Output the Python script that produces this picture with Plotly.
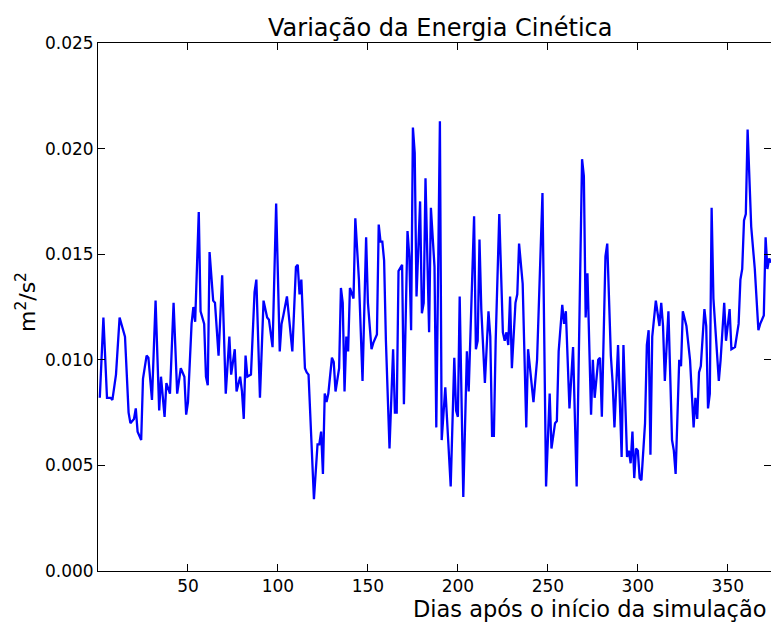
import plotly.graph_objects as go

days = [1, 3, 5, 7, 8, 10, 12, 15, 17, 18, 20, 21, 22, 24, 25, 27, 28, 30,
        32, 34, 35, 37, 38, 40, 42, 44, 46, 48, 49, 50, 52, 53, 54, 56, 57, 59, 60, 61, 62,
        64, 65, 67, 69, 71, 73, 74, 76, 77, 79, 80, 81, 82, 83, 85, 87, 88, 90, 92, 94,
        95, 97, 99, 101, 102, 103, 105, 108, 110, 111, 112, 113, 115, 116, 117, 120, 122, 123, 124, 125,
        126, 127, 128, 130, 131, 132, 134, 135, 136, 137, 138, 139, 140, 142, 143, 145, 147, 149, 150,
        152, 153, 155, 156, 157,
        158, 159, 160, 162, 164, 165, 166, 167, 169, 170, 172, 173, 174, 175, 176, 177, 179, 180, 181,
        182, 184, 185, 187, 188,
        190, 191, 193, 196, 198, 199, 200, 201, 203, 205, 206, 209, 210, 211, 212, 213, 215, 217, 218,
        219, 220,
        221, 223, 225, 226, 227, 228, 229, 230, 232, 233, 234, 236, 238, 239, 242, 244, 247, 249, 251, 252,
        254, 255, 256, 258, 259, 260, 262, 264, 266, 269, 270, 271, 272, 274, 275, 276, 278, 279, 280,
        282, 283,
        285, 286, 287, 289, 291, 292, 294, 295, 296, 297, 298, 299, 300, 301, 302, 304, 305, 306, 307,
        308, 310, 312, 313, 314, 315,
        317, 319, 320, 321, 323, 324, 325, 327, 329, 331, 332, 333, 334, 335, 337, 338, 339, 340, 341,
        342, 345, 346,
        348, 349, 351, 352, 354, 356, 357, 358, 359, 360, 361, 363, 365, 367, 368, 370, 371, 372, 373, 374]

energia = [0.0082, 0.0120, 0.0082, 0.0082, 0.0081, 0.0093, 0.0120, 0.0111, 0.0075, 0.0070, 0.0072,
           0.0077, 0.0066, 0.0062, 0.0091, 0.0102, 0.0101, 0.0081,
           0.0128, 0.0076, 0.0092, 0.0073, 0.0089, 0.0084, 0.0127, 0.0084, 0.0096, 0.0092, 0.0074,
           0.0080, 0.0117, 0.0125, 0.0118, 0.0170, 0.0123, 0.0117, 0.0092, 0.0088, 0.0151,
           0.0128, 0.0127, 0.0102, 0.0140, 0.0084, 0.0111, 0.0093, 0.0105, 0.0085, 0.0092, 0.0085,
           0.0072, 0.0102, 0.0092, 0.0093, 0.0132, 0.0138, 0.0082, 0.0128, 0.0120,
           0.0119, 0.0106, 0.0174, 0.0104, 0.0117, 0.0121, 0.0130, 0.0104, 0.0144, 0.0145, 0.0131,
           0.0138, 0.0096, 0.0094, 0.0093, 0.0034, 0.0060, 0.0060, 0.0066, 0.0046,
           0.0084, 0.0080, 0.0084, 0.0101, 0.0099, 0.0085, 0.0096, 0.0134, 0.0127, 0.0085, 0.0111,
           0.0104, 0.0134, 0.0129, 0.0167, 0.0138, 0.0090, 0.0158, 0.0127,
           0.0105, 0.0108, 0.0112, 0.0164, 0.0156,
           0.0156, 0.0147, 0.0109, 0.0058, 0.0105, 0.0075, 0.0075, 0.0142, 0.0145, 0.0079, 0.0161,
           0.0149, 0.0114, 0.0210, 0.0198, 0.0130, 0.0175, 0.0122, 0.0127,
           0.0186, 0.0113, 0.0172, 0.0144, 0.0068,
           0.0213, 0.0062, 0.0087, 0.0040, 0.0101, 0.0076, 0.0073, 0.0130, 0.0035, 0.0104, 0.0085,
           0.0168, 0.0105, 0.0109, 0.0157, 0.0124, 0.0089, 0.0123, 0.0111,
           0.0064, 0.0064,
           0.0109, 0.0169, 0.0113, 0.0109, 0.0113, 0.0107, 0.0130, 0.0096, 0.0127, 0.0131, 0.0155,
           0.0136, 0.0068, 0.0105, 0.0080, 0.0100, 0.0179, 0.0040, 0.0084, 0.0058,
           0.0070, 0.0071, 0.0104, 0.0126, 0.0117, 0.0123, 0.0077, 0.0106, 0.0040, 0.0195, 0.0187,
           0.0120, 0.0141, 0.0074, 0.0100, 0.0082, 0.0100, 0.0101, 0.0073,
           0.0149, 0.0155,
           0.0102, 0.0089, 0.0068, 0.0107, 0.0054, 0.0107, 0.0054, 0.0057, 0.0051, 0.0066, 0.0044,
           0.0058, 0.0057, 0.0044, 0.0043, 0.0070, 0.0107, 0.0114, 0.0055,
           0.0111, 0.0128, 0.0116, 0.0127, 0.0116, 0.0090,
           0.0123, 0.0062, 0.0057, 0.0046, 0.0100, 0.0097, 0.0123, 0.0116, 0.0100, 0.0068, 0.0082,
           0.0072, 0.0094, 0.0097, 0.0124, 0.0116, 0.0077, 0.0084, 0.0172,
           0.0129, 0.0090, 0.0100,
           0.0127, 0.0109, 0.0124, 0.0105, 0.0106, 0.0117, 0.0138, 0.0143, 0.0166, 0.0169, 0.0209,
           0.0163, 0.0143, 0.0114, 0.0117, 0.0121, 0.0158, 0.0143, 0.0148, 0.0146]

x_ticks = [50, 100, 150, 200, 250, 300, 350]
y_ticks = [0.000, 0.005, 0.010, 0.015, 0.020, 0.025]

titulo = "Variação da Energia Cinética"
rotulo_x = "Dias após o início da simulação"
rotulo_y = "m<sup>2</sup>/s<sup>2</sup>"

FONT = "DejaVu Sans"

fig = go.Figure()
fig.add_trace(go.Scatter(x=days, y=energia, mode="lines",
                         line=dict(color="#0000ff", width=2.3),
                         showlegend=False, hoverinfo="skip"))

W, H = 771, 623
L, R, T, B = 98, 0, 43, 623 - 571
PW = W - L - R
PH = H - T - B

fig.update_layout(
    width=W, height=H,
    margin=dict(l=L, r=R, t=T, b=B, pad=0),
    paper_bgcolor="white", plot_bgcolor="white",
    font=dict(family=FONT, color="black", size=17),
    xaxis=dict(range=[0, 374], tickvals=x_ticks, ticktext=[str(v) for v in x_ticks],
               ticks="inside", ticklen=7, tickwidth=1, tickcolor="black",
               showline=True, linecolor="black", linewidth=1, mirror="ticks",
               showgrid=False, zeroline=False, tickfont=dict(size=17, family=FONT)),
    yaxis=dict(range=[0, 0.025], tickvals=y_ticks, ticktext=["%.3f" % v for v in y_ticks],
               ticks="inside", ticklen=7, tickwidth=1, tickcolor="black",
               showline=True, linecolor="black", linewidth=1, mirror="ticks",
               showgrid=False, zeroline=False, tickfont=dict(size=17, family=FONT)),
    annotations=[
        dict(text=titulo, xref="paper", yref="paper", x=(440 - L) / PW, y=1,
             yshift=15, xanchor="center", yanchor="middle", showarrow=False,
             font=dict(size=24, family=FONT)),
        dict(text=rotulo_x, xref="paper", yref="paper", x=(590 - L) / PW, y=0,
             yshift=-38, xanchor="center", yanchor="middle", showarrow=False,
             font=dict(size=22.5, family=FONT)),
        dict(text=rotulo_y, xref="paper", yref="paper", x=0, xshift=-72, y=(571 - 302) / PH,
             xanchor="center", yanchor="middle", showarrow=False, textangle=-90,
             font=dict(size=22, family=FONT)),
    ],
)

fig.write_html(
    "out.html",
    config={"displayModeBar": False, "staticPlot": True},
    post_script="document.body.style.margin='0';document.body.style.overflow='hidden';",
)
